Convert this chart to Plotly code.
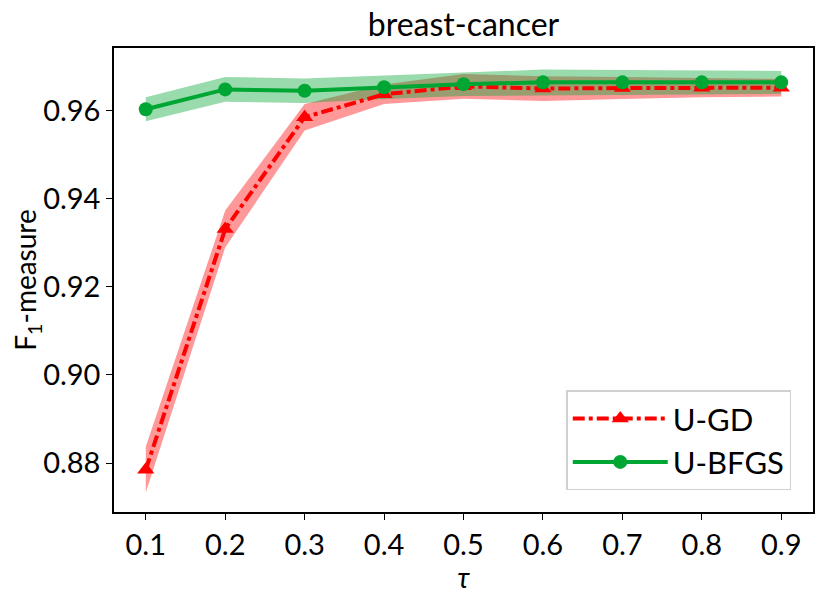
import plotly.graph_objects as go

tau = [0.1, 0.2, 0.3, 0.4, 0.5, 0.6, 0.7, 0.8, 0.9]
gd_mean = [0.8785, 0.9331, 0.9585, 0.9637, 0.9655, 0.9650, 0.9651, 0.9652, 0.9652]
gd_std = [0.0052, 0.0042, 0.0030, 0.0022, 0.0028, 0.0028, 0.0025, 0.0022, 0.0020]
bfgs_mean = [0.9603, 0.9648, 0.9645, 0.9653, 0.9660, 0.9664, 0.9664, 0.9664, 0.9664]
bfgs_std = [0.0027, 0.0028, 0.0028, 0.0027, 0.0027, 0.0029, 0.0028, 0.0027, 0.0026]

font = "Lato"
red = "#ff0000"
green = "#00a633"

fig = go.Figure()

def band(mean, std, color):
    up = [m + s for m, s in zip(mean, std)]
    lo = [m - s for m, s in zip(mean, std)]
    fig.add_trace(go.Scatter(x=tau + tau[::-1], y=up + lo[::-1], fill="toself",
                             fillcolor=color, line=dict(width=0), mode="lines",
                             hoverinfo="skip", showlegend=False))

band(gd_mean, gd_std, "rgba(255,0,0,0.4)")
band(bfgs_mean, bfgs_std, "rgba(0,166,51,0.4)")

fig.add_trace(go.Scatter(x=tau, y=gd_mean, name="U-GD", mode="lines+markers",
                         line=dict(color=red, width=4, dash="dashdot"),
                         marker=dict(symbol="triangle-up", size=15, color=red)))
fig.add_trace(go.Scatter(x=tau, y=bfgs_mean, name="U-BFGS", mode="lines+markers",
                         line=dict(color=green, width=4),
                         marker=dict(symbol="circle", size=14, color=green)))

# the page body adds an 8px offset, so the figure is a bit smaller than the window
fig.update_layout(
    width=815, height=586,
    margin=dict(l=105, r=8, t=40, b=80),
    paper_bgcolor="white", plot_bgcolor="white",
    font=dict(family=font, size=28, color="black"),
    title=dict(text="breast-cancer", x=0.5, xanchor="center", xref="paper",
               y=0.972, yanchor="middle", font=dict(size=32)),
    legend=dict(x=0.647, y=0.262, xanchor="left", yanchor="top",
                bordercolor="#d0d0d0", borderwidth=1.5, bgcolor="white",
                font=dict(size=31), itemwidth=95),
)
fig.update_xaxes(range=[0.06, 0.94], tickvals=tau, ticktext=[str(t) for t in tau],
                 showline=True, linecolor="black", linewidth=1.5, mirror=True,
                 ticks="outside", ticklen=6, tickcolor="black", showgrid=False,
                 zeroline=False, tickfont=dict(size=29),
                 title=dict(text="<i>τ</i>", font=dict(size=28), standoff=6))
fig.update_yaxes(range=[0.8689, 0.9742], tickvals=[0.88, 0.90, 0.92, 0.94, 0.96],
                 tickformat=".2f",
                 showline=True, linecolor="black", linewidth=1.5, mirror=True,
                 ticks="outside", ticklen=6, tickcolor="black", showgrid=False,
                 zeroline=False, tickfont=dict(size=29),
                 title=dict(text="F<sub>1</sub>-measure", font=dict(size=28), standoff=8))

fig.write_html("out.html")
